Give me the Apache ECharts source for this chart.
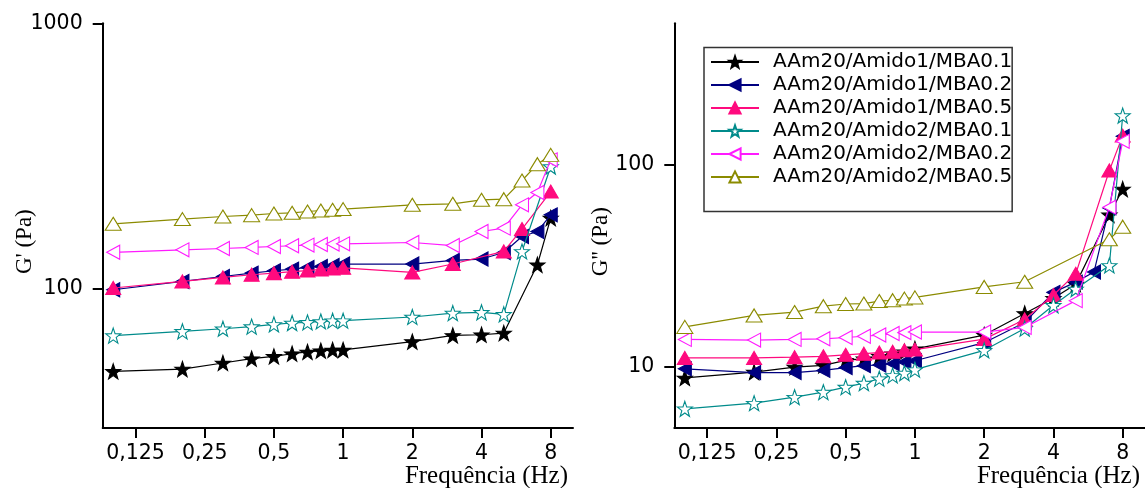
<!DOCTYPE html>
<html>
<head>
<meta charset="utf-8">
<script src="https://cdn.jsdelivr.net/npm/echarts@6/dist/echarts.min.js"></script>
<style>html,body{margin:0;padding:0;background:#fff}#c{width:1145px;height:488px}</style>
</head>
<body>
<div id="c"></div>
<script>
// ---- data ----
const xTicks = [0.125, 0.25, 0.5, 1, 2, 4, 8];
const xTickLabels = ['0,125', '0,25', '0,5', '1', '2', '4', '8'];
const yTicksLeft = [100, 1000];
const yTicksRight = [10, 100];
const seriesNames = ['AAm20/Amido1/MBA0.1', 'AAm20/Amido1/MBA0.2', 'AAm20/Amido1/MBA0.5',
  'AAm20/Amido2/MBA0.1', 'AAm20/Amido2/MBA0.2', 'AAm20/Amido2/MBA0.5'];

// G' (left panel)
const gp1x = [0.1,0.2,0.3,0.4,0.5,0.6,0.7,0.8,0.9,1,2,3,4,5,7,8];
const gp1y = [49.0,50.0,52.7,54.7,55.8,57.1,58.0,58.6,59.0,59.0,63.4,66.9,67.3,68.3,123.4,184.9];
const gp2x = [0.1,0.2,0.3,0.4,0.5,0.6,0.7,0.8,0.9,1,2,3,4,5,6,7,8];
const gp2y = [99.4,106.8,111.5,114.8,117.2,118.9,120.6,121.6,122.7,124.2,124.2,128.1,129.7,137.3,157.6,164.6,190.2];
const gp3x = [0.1,0.2,0.3,0.4,0.5,0.6,0.7,0.8,0.9,1,2,3,5,6,8];
const gp3y = [100.9,106.8,110.6,113.2,114.8,116.2,117.4,118.5,119.5,120.2,115.5,124.2,138.5,168.1,232.8];
const gp4x = [0.1,0.2,0.3,0.4,0.5,0.6,0.7,0.8,0.9,1,2,3,4,5,6,8];
const gp4y = [66.8,69.3,70.9,72.2,73.6,74.5,74.9,75.5,76.0,76.0,78.5,81.2,81.7,80.3,138.5,289];
const gp5x = [0.1,0.2,0.3,0.4,0.5,0.6,0.7,0.8,0.9,1,2,3,4,5,6,7,8];
const gp5y = [137.5,140.5,142.1,143.4,144.6,145.5,146.4,147.1,147.6,148.0,149.7,145.8,164.6,169.5,207.5,230.8,306.3];
const gp6x = [0.1,0.2,0.3,0.4,0.5,0.6,0.7,0.8,0.9,1,2,3,4,5,6,7,8];
const gp6y = [176.0,183.3,187.5,189.7,192.4,193.6,195.8,197.5,198.7,199.9,207.5,209.3,216.6,217.9,256.1,295.1,319.8];

// G'' (right panel)
const gpp1x = [0.1,0.2,0.3,0.4,0.5,0.6,0.7,0.8,0.9,1,2,3,4,5,7,8];
const gpp1y = [8.84,9.45,10.0,10.2,10.8,11.0,11.3,11.65,11.9,12.3,14.4,18.4,21.9,25.7,56.5,75.8];
const gpp2x = [0.1,0.2,0.3,0.4,0.5,0.6,0.7,0.8,0.9,1,2,3,4,5,6,7,8];
const gpp2y = [9.80,9.39,9.39,9.63,9.94,10.16,10.24,10.4,10.6,10.75,13.2,16.6,23.4,26.3,29.5,61.2,138.1];
const gpp3x = [0.1,0.2,0.3,0.4,0.5,0.6,0.7,0.8,0.9,1,2,3,4,5,7,8];
const gpp3y = [11.1,11.1,11.2,11.3,11.5,11.65,11.8,11.9,12.1,12.2,13.75,17.2,22.7,28.9,93.7,139.3];
const gpp4x = [0.1,0.2,0.3,0.4,0.5,0.6,0.7,0.8,0.9,1,2,3,4,5,7,8];
const gpp4y = [6.22,6.63,7.10,7.52,7.96,8.33,8.76,9.09,9.34,9.71,12.1,15.5,20.2,24.3,31.8,175];
const gpp5x = [0.1,0.2,0.3,0.4,0.5,0.6,0.7,0.8,0.9,1,2,3,5,7,8];
const gpp5y = [13.7,13.6,13.7,13.8,14.0,14.2,14.4,14.65,14.8,14.9,14.9,15.7,21.3,61.7,130.5];
const gpp6x = [0.1,0.2,0.3,0.4,0.5,0.6,0.7,0.8,0.9,1,2,3,7,8];
const gpp6y = [15.8,18.0,18.7,20.0,20.5,20.6,21.2,21.4,21.8,22.1,24.9,26.4,42.8,49.4];

// ---- styles ----
const STAR = 'path://M0,-10L2.35,-3.24L9.51,-3.09L3.8,1.24L5.88,8.09L0,4.1L-5.88,8.09L-3.8,1.24L-9.51,-3.09L-2.35,-3.24Z';
const styles = [
  {color:'#000000', symbol:STAR, size:[15,15], rot:0, fill:'#000000'},
  {color:'#000080', symbol:'triangle', size:[14,13], rot:90, fill:'#000080'},
  {color:'#FF0A7E', symbol:'triangle', size:[15,13], rot:0, fill:'#FF0A7E'},
  {color:'#008B8B', symbol:STAR, size:[15,15], rot:0, fill:'#ffffff'},
  {color:'#FF1AFF', symbol:'triangle', size:[14,13], rot:90, fill:'#ffffff'},
  {color:'#8B8B00', symbol:'triangle', size:[16,13], rot:0, fill:'#ffffff'}
];

function mk(i, xs, ys, gi) {
  const s = styles[i];
  return {
    type: 'line', name: seriesNames[i], xAxisIndex: gi, yAxisIndex: gi,
    data: xs.map((x, k) => [x, ys[k]]),
    symbol: s.symbol, symbolSize: s.size, symbolRotate: s.rot,
    showAllSymbol: true,
    lineStyle: {color: s.color, width: 1.2},
    itemStyle: {color: s.fill, borderColor: s.color, borderWidth: 1.1},
    emphasis: {disabled: true},
    z: 2 + i
  };
}

const tickFont = 'DejaVu Sans';
function xLabel(v) {
  for (let i = 0; i < xTicks.length; i++) {
    if (Math.abs(v - xTicks[i]) / xTicks[i] < 1e-6) return xTickLabels[i];
  }
  return '';
}
function makeX(gi) {
  return {
    type: 'log', logBase: 2, min: 0.09, max: 10, gridIndex: gi,
    name: 'Frequência (Hz)', nameLocation: 'end', nameGap: -5, nameMoveOverlap: false,
    nameTextStyle: {fontFamily: 'Liberation Serif', fontSize: 25, color: '#000', align: 'right', verticalAlign: 'top', padding: [36, 0, 0, 0]},
    axisLine: {lineStyle: {color: '#000', width: 2}},
    axisTick: {show: true, length: 10, inside: false, lineStyle: {color: '#000', width: 2}, customValues: xTicks},
    axisLabel: {fontFamily: tickFont, fontSize: 20.5, color: '#000', margin: 15, formatter: xLabel, customValues: xTicks, hideOverlap: false},
    splitLine: {show: false}, minorTick: {show: false}
  };
}
function makeY(gi, min, max, ticks, name, gap) {
  return {
    type: 'log', logBase: 10, min: min, max: max, gridIndex: gi,
    name: name, nameLocation: 'middle', nameGap: gap, nameRotate: 90, nameMoveOverlap: false,
    nameTextStyle: {fontFamily: 'Liberation Serif', fontSize: 23, color: '#000', padding: [0, 32, 0, 0]},
    axisLine: {lineStyle: {color: '#000', width: 2}},
    axisTick: {show: true, length: 10, inside: false, lineStyle: {color: '#000', width: 2}, customValues: ticks},
    axisLabel: {fontFamily: tickFont, fontSize: 20.5, color: '#000', margin: 20,
      formatter: v => ticks.some(t => Math.abs(v - t) / t < 1e-6) ? String(Math.round(v)) : '',
      customValues: ticks},
    splitLine: {show: false}, minorTick: {show: false}
  };
}

const series = [];
[[gp1x,gp1y],[gp2x,gp2y],[gp3x,gp3y],[gp4x,gp4y],[gp5x,gp5y],[gp6x,gp6y]].forEach((d, i) => series.push(mk(i, d[0], d[1], 0)));
[[gpp1x,gpp1y],[gpp2x,gpp2y],[gpp3x,gpp3y],[gpp4x,gpp4y],[gpp5x,gpp5y],[gpp6x,gpp6y]].forEach((d, i) => series.push(mk(i, d[0], d[1], 1)));

const chart = echarts.init(document.getElementById('c'), null, {renderer: 'canvas'});
chart.setOption({
  animation: false,
  backgroundColor: '#ffffff',
  grid: [
    {left: 102.7, top: 23.3, width: 470.3, height: 404.7, outerBoundsMode: 'none', containLabel: false},
    {left: 674.3, top: 23.3, width: 470.7, height: 404.7, outerBoundsMode: 'none', containLabel: false}
  ],
  xAxis: [makeX(0), makeX(1)],
  yAxis: [makeY(0, 30, 1000, yTicksLeft, "G' (Pa)", 66), makeY(1, 5, 500, yTicksRight, "G'' (Pa)", 62)],
  legend: {
    data: seriesNames, orient: 'vertical', left: 704, top: 47.5,
    padding: [3, 0, 23, 6], itemGap: 0, itemWidth: 48, itemHeight: 14,
    borderColor: '#333', borderWidth: 1.5, backgroundColor: '#fff',
    selectedMode: false,
    textStyle: {fontFamily: tickFont, fontSize: 20, color: '#000', lineHeight: 23, padding: [0, 0, 0, 9]}
  },
  series: series
});
</script>
</body>
</html>
